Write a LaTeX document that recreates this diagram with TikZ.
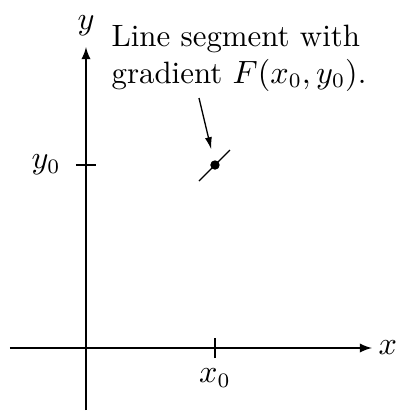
\documentclass[tikz,border=0pt]{standalone}
\usepackage{tikz}
\usetikzlibrary{arrows.meta}
\tikzset{>=latex}
\tikzstyle{axis}=[->,line width=0.45pt]
\tikzstyle{tick}=[line width=0.45pt]
\def\T{10} % half length of a tick

\begin{document}
\begin{tikzpicture}[x=0.34pt,y=0.34pt,font=\fontsize{10.5}{12.6}\selectfont]
  \useasboundingbox (-86,-64) rectangle (325,348);
  
  \coordinate (O)  at (   0,   0 ); % ORIGIN
  \coordinate (XL) at ( -76,   0 );
  \coordinate (XR) at ( 286,   0 );
  \coordinate (YB) at (   0, -62 );
  \coordinate (YT) at (   0, 301 );
  \coordinate (X0) at ( 129,   0 );
  \coordinate (Y0) at (   0, 183 );
  
  % AXES
  \draw[axis] (XL) -- (XR) node[right,inner sep=2pt] (xl) {$x$};
  \draw[axis] (YB) -- (YT) node[above,inner sep=3.5pt] (yl) {$y$};
  
  % TICKS
  \draw[tick] (X0) ++(0,-\T) -- ++(0,2*\T) node[pos=0,below] (x0l) {$x_0$};
  \draw[tick] (Y0) ++(-\T,0) -- ++(2*\T,0) node[pos=0,left,inner sep=5pt] (y0l) {$y_0$};
  
  % SEGMENT
  \node[circle,fill,inner sep=0pt,minimum size=3.2pt] (P) at (X0 |- Y0) {};
  \coordinate (S1) at ( 113, 167 );
  \coordinate (S2) at ( 144, 198 );
  \draw[line width=0.45pt] (S1) -- (S2);
  
  % LABEL
  \node[anchor=north west,align=left,inner sep=0pt] (lbl) at (25,324)
    {Line segment with\\gradient $F(x_0,y_0)$.};
  \coordinate (tail) at ( 113, 250 );
  \draw[-{Latex[length=4.2pt,width=2.4pt]},line width=0.45pt,shorten >=3.6pt] (tail) -- (P);
  
\end{tikzpicture}
\end{document}
